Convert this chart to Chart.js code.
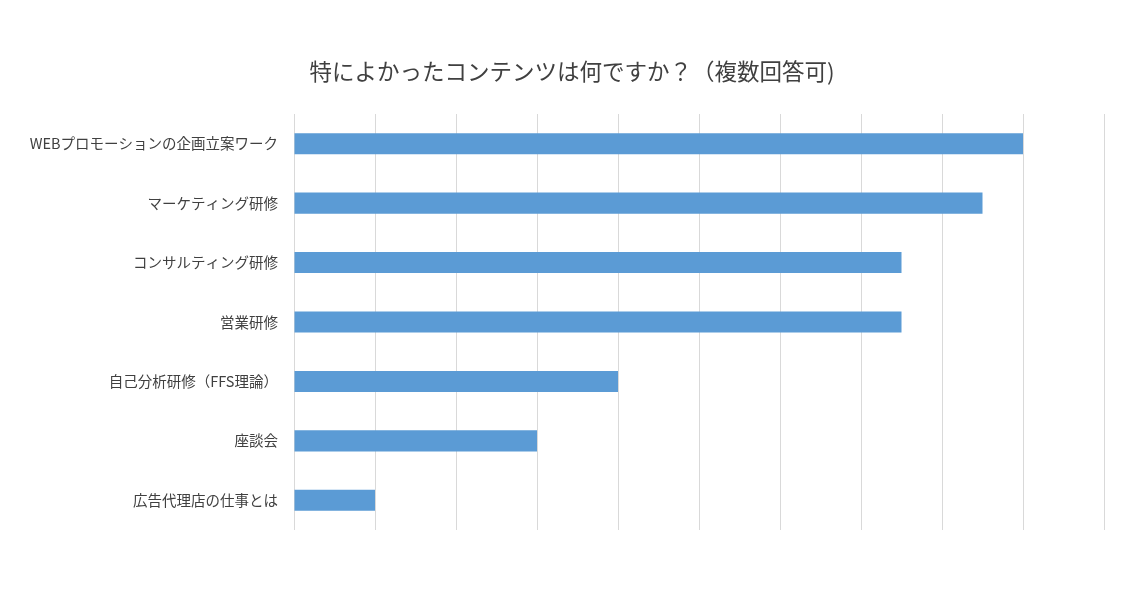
<!DOCTYPE html>
<html>
<head>
<meta charset="utf-8">
<script src="https://cdn.jsdelivr.net/npm/chart.js@4"></script>
<style>
  html, body { margin: 0; padding: 0; background: #fff; }
  #wrap { width: 1144px; height: 589px; }
</style>
</head>
<body>
<div id="wrap"><canvas id="myChart"></canvas></div>
<script>
const categories = [
  "WEBプロモーションの企画立案ワーク",
  "マーケティング研修",
  "コンサルティング研修",
  "営業研修",
  "自己分析研修（FFS理論）",
  "座談会",
  "広告代理店の仕事とは"
];
const counts = [9, 8.5, 7.5, 7.5, 4, 3, 1];
const xMin = 0;
const xMax = 10;
const chartTitle = "特によかったコンテンツは何ですか？（複数回答可)";

const ctx = document.getElementById("myChart");

// keep the title centred on the whole canvas, not on the padded area
const centerTitle = {
  id: "centerTitle",
  afterLayout(chart) {
    if (chart.titleBlock) {
      chart.titleBlock.left = 0;
      chart.titleBlock.right = chart.width;
    }
  }
};

new Chart(ctx, {
  type: "bar",
  data: {
    labels: categories,
    datasets: [
      {
        label: "回答数",
        data: counts,
        backgroundColor: "#5b9bd5",
        borderWidth: 0,
        barPercentage: 0.355,
        categoryPercentage: 1
      }
    ]
  },
  plugins: [centerTitle],
  options: {
    indexAxis: "y",
    responsive: true,
    maintainAspectRatio: false,
    animation: false,
    layout: { padding: { left: 0, right: 40, top: 0, bottom: 59 } },
    plugins: {
      legend: { display: false },
      tooltip: { enabled: false },
      title: {
        display: true,
        text: chartTitle,
        color: "#404040",
        font: { family: "'Noto Sans CJK JP'", size: 22.5, weight: "normal" },
        padding: { top: 58, bottom: 29 }
      }
    },
    scales: {
      x: {
        min: xMin,
        max: xMax,
        ticks: { display: false, stepSize: 1 },
        grid: { color: "#d9d9d9", lineWidth: 1, drawTicks: false },
        border: { display: false }
      },
      y: {
        grid: { display: false },
        border: { display: false },
        ticks: {
          color: "#404040",
          padding: 8,
          font: { family: "'Noto Sans CJK JP'", size: 14.5 }
        },
        afterFit: function (axis) { axis.width = 294; }
      }
    }
  }
});
</script>
</body>
</html>
